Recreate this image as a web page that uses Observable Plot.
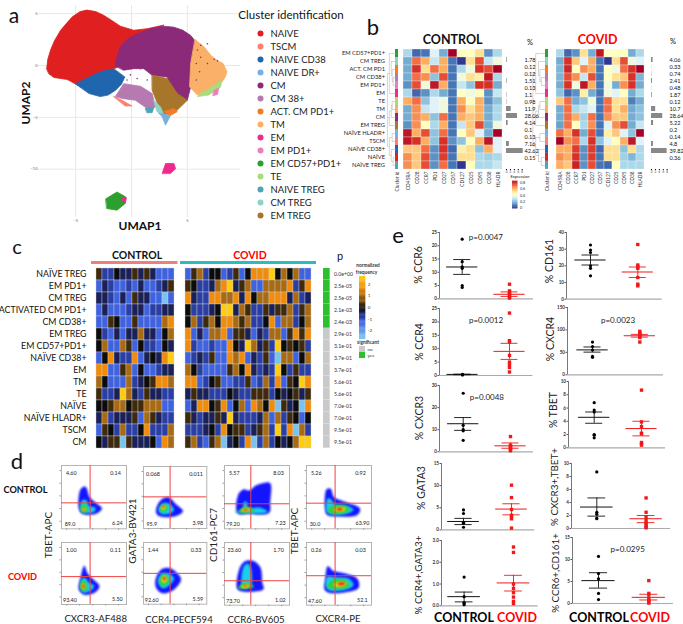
<!DOCTYPE html>
<html><head><meta charset="utf-8">
<script src="https://cdn.jsdelivr.net/npm/d3@7"></script>
<script src="https://cdn.jsdelivr.net/npm/@observablehq/plot@0.6"></script>
<style>
html,body{margin:0;padding:0;background:#fff}
#root{position:relative;width:683px;height:624px;overflow:hidden;font-family:Lato,sans-serif}
#root span{position:absolute;white-space:nowrap;line-height:1}
</style></head><body><div id="root"></div>
<script>
// ---------- panel a: clusters ----------
const clusterNames=["NAIVE","TSCM","NAIVE CD38","NAIVE DR+","CM","CM 38+","ACT. CM PD1+","TM","EM","EM PD1+","EM CD57+PD1+","TE","NAIVE TREG","CM TREG","EM TREG"];
const clusterColors=["#e02020","#fb8072","#1f66ae","#79aee0","#8a2a78","#b67ab0","#f47b20","#fbb06a","#ee2a8c","#e87fbe","#2ca02c","#aadb7c","#4fa3b4","#8fd3c4","#a8762a"];
const umapNaive=[[-7.6,-.3],[-7.5,.6],[-7.25,1.5],[-6.9,2.4],[-6.35,3.4],[-5.8,4.1],[-5.3,4.7],[-4.6,5.2],[-4,5.35],[-3.2,5.2],[-2.5,4.85],[-1.7,4.3],[-1,3.8],[.2,3.4],[1.4,3.55],[2.9,3.9],[.2,2.6],[-1,1.15],[-1.2,-.15],[-2.65,-.75],[-3.7,-1.9],[-4.55,-2.05],[-5.75,-1.35],[-6.95,-1.15],[-7.4,-.8]];
const umapCD38=[[-5,-1.75],[-2.8,-.6],[-1.6,-.3],[-.6,-1.1],[-.9,-1.8],[-1.45,-2.4],[-2.1,-2.85],[-2.8,-3],[-3.8,-2.7]];
const umapCM=[[-1.45,0],[-1.3,.9],[-1,1.8],[-.4,2.5],[.2,2.9],[1.7,3.55],[2.8,3.8],[3.8,3.7],[4.6,3.4],[5.3,2.9],[5.9,2.1],[5.6,1],[5.4,-.15],[5.3,-2.05],[5,-3.35],[3.8,-3.35],[3.2,-1.1],[1.85,-.95],[1.1,-.3],[.2,-.3],[-.7,-.45]];
const umapTM=[[5.7,2.5],[6.5,1.8],[7.1,1],[7.65,.5],[8.2,.2],[8.55,-.6],[8.4,-1.1],[8,-1.75],[7.05,-2.55],[5.9,-2.85],[5.2,-2.05],[5.3,.2]];
const umapTE=[[7.67,-1.75],[8.1,-1.25],[7.97,-2.1],[6.9,-2.85],[5.9,-3],[6.2,-2.7]];
const umapEMTreg=[[1.85,-.95],[3.2,-1.25],[4.1,-2.7],[5,-3.35],[4.1,-4.3],[2.9,-4.8],[2.45,-4],[1.85,-2.4]];
const umapCM38=[[-1.45,-3],[-.7,-1.75],[.8,-2],[1.85,-2.7],[2.15,-4],[1.4,-4.15],[.35,-3.35],[-.7,-3.2]];
const umapAct=[[2.9,-4.45],[3.8,-4.15],[4.1,-4.45],[3.5,-4.8]];
const umapTSCM=[[-1.6,-3],[-.85,-3.35],[.05,-3.9],[-.55,-3.9]];
const umapCMTreg=[[2,-3.35],[2.6,-4],[2.9,-4.8],[2.3,-4.45]];
const umapDR=[[2.45,-4.6],[3.5,-4.8],[3.05,-5.75],[2.75,-4.95]];
const umapNaiveTreg=[[1.25,-4.15],[2,-4],[1.85,-4.55],[1.4,-4.55]];
const umapEMPD1=[[7.4,-2.4],[7.8,-2.2],[7.7,-2.8],[7.3,-2.9]];
const umapEMa=[[2.75,-10.4],[3.05,-9.45],[3.8,-9.45],[3.95,-9.95],[3.5,-10.4]];
const umapGreen=[[-2.3,-12.85],[-1.3,-12.2],[-.55,-12.65],[-.55,-13.3],[-1.3,-13.95],[-2.2,-13.8]];
const umapEMb=[[-.85,-12.75],[-.45,-12.75],[-.55,-13.2],[-.85,-13.1]];
const umapSpecks=[[6.2,1.95],[6.8,2.1],[5.9,1.5],[6.2,.8],[6.8,.2],[7.4,.6],[7.7,.45],[5.8,.2],[6.1,-.6],[5.8,-1.4],[-.1,-.9],[.5,-1.25],[1.4,-1.4],[-.4,-1.4],[.8,-.3]];
const umapLayers=[[umapNaive,"NAIVE"],[umapCD38,"NAIVE CD38"],[umapCM,"CM"],[umapTM,"TM"],[umapTE,"TE"],[umapEMPD1,"EM PD1+"],[umapCM38,"CM 38+"],[umapEMTreg,"EM TREG"],[umapTSCM,"TSCM"],[umapCMTreg,"CM TREG"],[umapNaiveTreg,"NAIVE TREG"],[umapDR,"NAIVE DR+"],[umapAct,"ACT. CM PD1+"],[umapEMa,"EM"],[umapGreen,"EM CD57+PD1+"],[umapEMb,"EM"]];

// ---------- panel b ----------
const bRows=["EM CD57+PD1+","CM TREG","ACT. CM PD1","CM CD38+","EM PD1+","EM","TE","TM","CM","EM TREG","NAÏVE HLADR+","TSCM","NAÏVE CD38+","NAÏVE","NAÏVE TREG"];
const bRowCluster=["EM CD57+PD1+","CM TREG","ACT. CM PD1+","CM 38+","EM PD1+","EM","TE","TM","CM","EM TREG","NAIVE DR+","TSCM","NAIVE CD38","NAIVE","NAIVE TREG"];
const bMarkers=["CD45RA","CD28","CCR7","PD1","CD27","CD57","CD127","CD25","CD95","CD38","HLADR"];
const bControl=[[3,.8,1,4,2,10,5,5,6,1.5,3],[2,8,7,3.5,7,1,0,6,8.5,3.5,4.5],[2,9,6,8,7,1,3,4.5,9,8.5,10],[2,8,7.5,2.5,8.5,1,4.5,6,5.5,9.5,3],[1.5,8.5,4.5,9.5,7,1,3.5,2.5,9,9,2],[3,.8,1.5,3,2,1,5,4.5,5,1.5,3.5],[7,8,2.5,4,4.5,1,7,5,7,1.5,2.5],[2,7.5,3.5,4,4.5,1,7.5,6,7,2,3],[2,7.5,7,2.5,8,1,7,6.5,7,2,3],[1.5,7.5,5,3,7,1,3.5,6.5,8.5,2,4.5],[9.5,7,8.5,2.5,8,1,5,6.5,4,2,10],[9.5,9,7,2.5,9,1.5,2.5,5,7,9.5,4],[6.5,6.5,8,1.5,9,.8,5.5,6,2.5,7,4],[7.5,6.5,8.5,1.5,8.8,1,6,6,3,2.8,3],[7.5,6.5,8.5,1.5,8,1,0,5,3,3,3.5]];
const bCovid=[[3,.8,1.5,6,2,9.5,5,5,5,2,3],[2,9,6.5,4,7,1,0,6,8.5,4.5,4],[2.2,9.2,5,7.5,7,1,5,4.5,8,9,10],[2.2,8.5,7.5,3.5,8.5,1,5,6,6.5,9,2.2],[2,9,4.5,9.5,7,1,4.5,2,7.5,9,2],[2.5,.8,1.5,5.5,2,1,4.5,4,5,2,3],[6.5,8,2,2.5,4.5,1,8,6,6,1.2,2],[2,8,3,3.5,4,1,8,6,7,2,2.5],[2,8,7,2.8,8,1,7.5,6.5,6.5,2,2.5],[1.8,8,5,3,7.5,1,4,7.5,8.5,2,3.5],[8,7,9,2,8.5,1,5.5,6.5,4,2.5,10],[10,7.5,8,3,9,2.5,4,5,7,9.5,4],[7,7,8.8,1.5,8.8,.8,6,6,2.5,6,3],[7.5,7,9,1.5,8.8,1,6,6,2.8,2.2,3],[7,6.5,9.3,1.5,8.5,1,.8,5,3,3,3]];
const bPctControl=[1.78,.12,.12,1.51,.13,1.1,.98,11.9,28.06,4.14,.1,.13,7.16,42.62,.15];
const bPctCovid=[4.06,.33,.74,2.41,.48,1.87,.12,10.7,28.64,5.22,.2,.14,4.8,39.82,.36];
const expressionColors=["#313695","#4575b4","#74add1","#abd9e9","#e0f3f8","#ffffbf","#fee090","#fdae61","#f46d43","#d73027","#a50026"];
const dendroLinks=[[0,3,3,3],[0,4,3,4],[3,3,3,4],[0,2,4,2],[3,3.5,4,3.5],[4,2,4,3.5],[0,1,5,1],[4,2.75,5,2.75],[5,1,5,2.75],[0,0,7,0],[0,5,7,5],[7,0,7,5],[0,6,4,6],[0,7,4,7],[4,6,4,7],[0,8,5,8],[4,6.5,5,6.5],[5,6.5,5,8],[0,9,7,9],[5,7.2,7,7.2],[7,7.2,7,9],[0,10,4,10],[0,11,4,11],[4,10,4,11],[0,13,3,13],[0,14,3,14],[3,13,3,14],[0,12,5,12],[3,13.5,5,13.5],[5,12,5,13.5],[4,10.5,7,10.5],[5,12.75,7,12.75],[7,10.5,7,12.75],[7,2.5,9,2.5],[7,8,9,8],[7,11.6,9,11.6],[9,2.5,9,11.6]];

// ---------- panel c ----------
const cRows=["NAÏVE TREG","EM PD1+","CM TREG","ACTIVATED CM PD1+","CM CD38+","EM TREG","EM CD57+PD1+","NAÏVE CD38+","EM","TM","TE","NAÏVE","NAÏVE HLADR+","TSCM","CM"];
const cLevels={L:-2,B:-1.2,N:-.8,D:-.4,K:0,W:.4,M:1,O:1.7,Y:2.5};
const cLevelColors=["#79c4ee","#3f62e0","#2a3fa5","#1a2058","#0c0c0c","#3f2a0c","#a86a12","#f08c0a","#ffcc10"];
const cControl=["WNNKDDWDWDBBB","BDNBBNBDBBNDW","DDNBDBWDDBBLB","BDBBBNDDBNNDD","BBWKBBWBBBBMO","KNBDBDDMDDBKM","KMBBMWBKNNBKD","BKODNNOBDKDOY","OOBBWMBKBBNDD","MKBBBMNDKWOOM","WNNDYMDNWDDNN","KKWMMKWWMMMBB","DMNDDDWBMWDNN","BWKNMNNKONNNM","KDWWLWDDDKBOM"];
const cCovid=["BWMNKKBNWBKOOOYKMKMBB","WKNNDMOYDWMBBMMMMONWO","ODNNOOMMODOKMMOOODMND","KNNNDKYYDMWNNWDWWMNWM","KMNWMKOOMWMNNKOBMMNKM","OBDBMMOBWWDBDNMMBWOWO","ONBBNBBOKDYMDWNYKWKWN","BNDNWBBOMOBDNWBLMMBKM","MKNBBBBWMKODNDNYKNWNN","OOBNKWBBNNWBNMNOBWKYO","DWDDNNNKDNNWWWNKDKWDW","BDOOKWOBKMBOMKOLWDKLO","WDNDDWDYDNNNDMBMNWKBK","NNNDKNOKWWNDWMNYNOLMN","WMNBWMLDKNOLNMNKDKMYY"];
const cP=["0.0e+00","2.5e-05","2.5e-05","2.1e-03","2.4e-03","2.9e-01","3.1e-01","3.7e-01","3.7e-01","5.6e-01","5.6e-01","7.0e-01","7.0e-01","9.5e-01","9.5e-01"];
const cSignificant=[1,1,1,1,1,0,0,0,0,0,0,0,0,0,0];

// ---------- panel d: gates and quadrant percentages, axis in % of channel range ----------
const densityColors=["#1414ff","#18d0e8","#30d030","#f0e020","#f01010"];
const quadTexts=[["4.60","0.14","89.0","6.24"],["0.068","0.011","95.9","3.98"],["5.57","8.03","79.20","7.23"],["5.26","0.92","30.0","63.90"],["1.00","0.11","93.40","5.50"],["1.44","0.33","92.60","5.59"],["23.60","1.70","73.70","1.02"],["0.26","0.03","47.60","52.1"]];
const quadX=[15,83,13,86], quadY=[87,87,7,8];
const gateX=[44,42,40.5,44,44,42,40.5,44], gateY=[41,51,39.5,40.5,45,50,39,47];
const density=[
[[[30,63],[37,66],[43,50],[55,39],[62,32],[53,24],[32,24],[27,32]],[[32,45],[38,45],[42,36],[52,33],[50,27],[33,26],[29,32]],[[32,38],[38,36],[40,30],[36,26],[31,27],[30,32]],[[33,33],[36,33],[37,30],[34,28],[32,30]],[[33.5,32],[35,31.5],[35,30],[33.5,30]]],
[[[20,30],[28,46],[40,50],[50,40],[62,28],[50,20],[30,19],[22,22]],[[24,30],[30,40],[40,40],[48,30],[40,24],[28,24]],[[26,33],[30,38],[36,37],[38,32],[33,28],[27,28]],[[28,34],[32,37],[35,35],[34,32],[30,31]],[[30,36],[32,36.5],[33,34.5],[31,33.5]]],
[[[20,25],[22,55],[30,62],[38,60],[48,68],[60,72],[70,72],[70,42],[69,26],[60,23],[40,24]],[[16,27],[28,29],[30,42],[34,42],[36,33],[55,33],[66,27],[60,25],[30,25]],[[22,27],[28,33],[40,33],[46,29],[36,26]],[[26,29],[32,32],[40,30],[34,28]],[[29,30],[32,31],[36,30],[32,29]]],
[[[29,30],[31,62],[37,63],[42,50],[60,42],[82,32],[78,22],[50,20],[32,22]],[[31,28],[33,48],[38,46],[44,38],[62,36],[72,30],[62,24],[38,23]],[[33,28],[40,36],[60,36],[66,30],[55,25],[38,25]],[[42,30],[50,34],[60,32],[56,28],[46,28]],[[46,31],[52,33],[56,31],[50,29]]],
[[[30,45],[35,62],[40,50],[47,42],[58,30],[52,20],[35,16],[27,24]],[[32,42],[37,42],[42,35],[50,30],[44,22],[33,20],[29,30]],[[31,37],[37,36],[39,28],[36,22],[31,23],[29,30]],[[33,34],[36,32],[36,27],[33,25],[31,29]],[[33,32],[35,31],[35,28],[33,27]]],
[[[19,38],[28,56],[42,58],[55,48],[59,40],[48,24],[30,18],[21,25]],[[23,38],[30,50],[42,48],[48,42],[42,32],[30,26]],[[26,40],[31,48],[38,44],[40,38],[34,31],[27,32]],[[29,41],[33,46],[37,42],[36,37],[31,35]],[[31,42],[33.5,44],[35,41],[33,38.5]]],
[[[20,26],[24,60],[32,70],[45,70],[55,60],[58,35],[60,26],[45,22],[30,22]],[[28,28],[30,62],[36,66],[40,60],[40,30]],[[21,27],[28,34],[40,34],[45,29],[35,27]],[[26,29],[32,33],[38,31],[33,28]],[[29,31],[32,32],[35,31],[32,30]]],
[[[28,25],[29,40],[33,62],[40,55],[60,50],[78,42],[80,28],[65,22],[35,20]],[[30,30],[32,45],[45,44],[65,42],[72,32],[60,25],[35,24]],[[33,30],[40,40],[60,39],[66,32],[55,27],[38,27]],[[42,33],[50,37],[62,35],[58,31],[46,30]],[[47,34],[55,36],[60,34],[52,32]]]
];
const flowFrames=[[60.7,125.7,465,528.3],[142.7,206,465.7,527.7],[224.3,289.3,465,528.3],[306,371,465,528.3],[60.7,125.7,542.3,604.3],[142.7,206,542.3,604],[224.3,289.3,542.3,605],[306,371,542.3,605]];

// ---------- panel e: percentages per donor, [mean, sem low, sem high] ----------
const ccr6Control=[22.5,14,12,11.5,5,4.3], ccr6Covid=[5.5,3,2.5,2,1.5,1,.5,.3], ccr6Stats=[[12,9.2,14.8],[1.7,.9,2.6]];
const ccr4Control=[.4,.3,.2], ccr4Covid=[23.3,13,12.5,7.5,5,4,3,1.3], ccr4Stats=[[.4,.3,.5],[9,6,12]];
const cxcr3Control=[26.5,12,10,9.5,5.2], cxcr3Covid=[6.9,3,2.5,2,1.5,1,.5], cxcr3Stats=[[12.7,9.7,15.5],[2.7,1.6,4]];
const gata3Control=[4.5,3.7,1.7,1.5,.6], gata3Covid=[10.1,7.3,4.6,3.3,2.8,2.5,.4], gata3Stats=[[1.9,1.2,2.6],[4.7,3.4,5.9]];
const ccr4gata3Control=[1.32,.42,.15,.1,.05], ccr4gata3Covid=[2.7,2.45,1,.8,.6,.4,.2,.1], ccr4gata3Stats=[[.42,.18,.63],[1.05,.68,1.4]];
const cd161Control=[32.5,29.5,28,20,18.5,14], cd161Covid=[32.8,20.5,19.5,18.5,13,9,8], cd161Stats=[[23.5,20.5,26.5],[16.3,13,19.3]];
const cxcr4Control=[73,63,55,41,39], cxcr4Covid=[97,93,90,88,85,83,73], cxcr4Stats=[[55.5,50.5,62],[87,84,90]];
const tbetControl=[6.8,5.7,5.4,2,1.9,1.5], tbetCovid=[8.7,3.9,3.2,2.2,2.1,.8,.6,.4], tbetStats=[[4.6,3.7,5.4],[2.9,1.8,4]];
const cxcr3tbetControl=[8.7,2.5,2.2,1.6,1.5], cxcr3tbetCovid=[4.7,2.5,1.8,1.3,.9,.6,.3,.1], cxcr3tbetStats=[[3.3,1.9,4.7],[1.5,.9,2]];
const ccr6cd161Control=[10.7,6.8,5.6,2.3,.9], ccr6cd161Covid=[5.2,2.3,1.9,1.1,.7,.4,.1], ccr6cd161Stats=[[5.2,3.5,7],[1.4,.8,2.1]];

// ---------- layout ----------
const root=document.getElementById("root");
const FONT="Lato,sans-serif";
const baseStyle={fontFamily:FONT,background:"none",overflow:"visible",maxWidth:"none"};
function place(plot,left,top){plot.style.position="absolute";plot.style.left=left+"px";plot.style.top=top+"px";root.append(plot);return plot;}
function label(t,x,y,o={}){const s=document.createElement("span");s.textContent=t;
  s.style.left=x+"px";s.style.top=y+"px";s.style.fontSize=(o.size||10)+"px";s.style.color=o.color||"#111";s.style.fontWeight=o.weight||"normal";
  s.style.transform=`translate(-50%,-50%) rotate(${o.rot||0}deg)`;root.append(s);}
function blurMarks(plot,amount){plot.querySelectorAll('g[aria-label="line"]').forEach(g=>g.style.filter=`blur(${amount}px)`);return plot;}
const colorOf=Object.fromEntries(clusterNames.map((n,i)=>[n,clusterColors[i]]));

// panel letters
label("a",14,14,{size:21});label("b",373,27,{size:22});label("c",17,246,{size:20});label("d",17,461,{size:22});label("e",398,235,{size:22});

// --- a ---
place(blurMarks(Plot.plot({width:240,height:225,marginLeft:38,marginRight:0,marginTop:5,marginBottom:8,style:baseStyle,
  x:{domain:[-8.33,9.76]},y:{domain:[-14.66,5.79]},
  marks:[
    Plot.gridX([-5,0,5],{stroke:"#e8e8e8",strokeOpacity:1}),
    Plot.gridY([-10,-5,0,5],{stroke:"#e8e8e8",strokeOpacity:1}),
    Plot.axisX({ticks:[-5,5],tickSize:0,fontSize:4,fill:"#666",label:null,tickPadding:2}),
    Plot.axisY({ticks:[-10,-5,0,5],tickSize:0,fontSize:4,fill:"#666",label:null,tickPadding:1}),
    ...umapLayers.map(([poly,name])=>Plot.line(poly,{x:d=>d[0],y:d=>d[1],fill:colorOf[name],stroke:colorOf[name],strokeWidth:.8,curve:"linear-closed"})),
    Plot.dot(umapSpecks,{x:d=>d[0],y:d=>d[1],r:.8,fill:"#8a2a78"})
  ]}),.3),0,0);
label("UMAP1",140,226,{size:12,weight:700});label("UMAP2",26,103,{size:12,weight:700,rot:-90});
label("Cluster identification",291,15,{size:11.5});
place(Plot.plot({width:90,height:183,margin:0,style:baseStyle,y:{domain:clusterNames,padding:0,axis:null},
  marks:[
    Plot.dot(clusterNames,{y:d=>d,r:3,fill:d=>colorOf[d],frameAnchor:"left",dx:2}),
    Plot.text(clusterNames,{y:d=>d,text:d=>d,fontSize:9.5,frameAnchor:"left",textAnchor:"start",dx:12,fill:"#222"})
  ]}),258,32);

// --- b ---
const expDomain=expressionColors.map((_,i)=>i*.09);
function bHeat(matrix,left,width){
  const cells=matrix.flatMap((r,i)=>r.map((v,j)=>({row:bRows[i],col:bMarkers[j],v:v*.09})));
  return place(Plot.plot({width,height:134,margin:0,marginBottom:14,marginTop:0,style:baseStyle,
    x:{domain:bMarkers,padding:0},y:{domain:bRows,padding:0,axis:null},
    color:{type:"linear",domain:expDomain,range:expressionColors},
    marks:[Plot.cell(cells,{x:"col",y:"row",fill:"v",stroke:"#f4f4f4",strokeWidth:.3}),
      Plot.axisX({tickRotate:-90,fontSize:4.8,tickSize:0,tickPadding:2,label:null,fill:"#333"})]}),left,49);
}
bHeat(bControl,403,99.5);bHeat(bCovid,551.5,96);
function bStrip(left,marginLeft,labels){
  return place(Plot.plot({width:marginLeft+3.6,height:134,marginLeft,marginRight:0,marginTop:0,marginBottom:14,style:baseStyle,
    x:{domain:["Cluster id"],padding:0},y:{domain:bRows,padding:0},
    marks:[Plot.cell(bRows,{x:()=>"Cluster id",y:d=>d,fill:(d,i)=>colorOf[bRowCluster[i]]}),
      Plot.axisX({tickRotate:-90,fontSize:4.8,tickSize:0,tickPadding:2,label:null,fill:"#333"}),
      labels?Plot.axisY({tickSize:0,tickPadding:10.5,fontSize:5.8,label:null,fill:"#222"}):Plot.axisY({ticks:[],label:null})]}),left,49);
}
bStrip(395.3-60,60,true);bStrip(545.4-2,2,false);
function dendro(left,width){
  return place(Plot.plot({width,height:120,margin:0,style:baseStyle,x:{domain:[10,0],axis:null},y:{domain:[14.5,-.5],axis:null},
    marks:[Plot.link(dendroLinks,{x1:d=>d[0],y1:d=>d[1],x2:d=>d[2],y2:d=>d[3],stroke:"#aaa",strokeWidth:.5})]}),left,49);
}
dendro(385.5,9.5);dendro(531,14);
function bBars(pct,left){
  return place(Plot.plot({width:40,height:134,margin:0,marginBottom:14,style:baseStyle,
    x:{domain:[0,102]},y:{domain:bRows,padding:.25,axis:null},
    marks:[Plot.barX(pct,{x:d=>d,y:(d,i)=>bRows[i],fill:"#888",inset:0}),
      Plot.text(pct,{y:(d,i)=>bRows[i],text:d=>String(d),frameAnchor:"left",textAnchor:"start",dx:18,fontSize:5.6,fill:"#111"}),
      Plot.axisX({ticks:[0,10,20,30,40],tickFormat:d=>d/5,fontSize:3,tickSize:1,tickPadding:0,label:null,fill:"#444"})]}),left,49);
}
bBars(bPctControl,506);bBars(bPctCovid,651);
label("%",530,43,{size:7.5});label("%",673,42,{size:7.5});
label("CONTROL",452.7,39.5,{size:12.5,weight:700});label("COVID",597.7,40,{size:12.5,weight:700,color:"#f00"});
place(Plot.plot({width:25,height:27.5,marginLeft:0,marginRight:19.6,marginTop:0,marginBottom:0,style:baseStyle,
  x:{axis:null},y:{domain:[0,.88]},color:{type:"linear",domain:expDomain,range:expressionColors},
  marks:[Plot.ruleY(d3.range(0,.88,.02),{y:d=>d,stroke:d=>d,strokeWidth:1}),
    Plot.axisY({anchor:"right",ticks:[0,.2,.4,.6,.8],tickFormat:d=>d,tickSize:0,tickPadding:2,fontSize:3.8,label:null,fill:"#333"})]}),512.3,180);
label("Expression",520,177,{size:4});

// --- c ---
function cCells(rows){return rows.flatMap((s,i)=>[...s].map((ch,j)=>({row:cRows[i],col:j,v:cLevels[ch]})));}
const cColor={type:"linear",domain:Object.values(cLevels),range:cLevelColors};
place(Plot.plot({width:177.3,height:183.6,marginLeft:92,marginRight:0,marginTop:0,marginBottom:0,style:baseStyle,
  x:{domain:d3.range(13),padding:0,axis:null},y:{domain:cRows,padding:0},color:cColor,
  marks:[Plot.cell(cCells(cControl),{x:"col",y:"row",fill:"v",stroke:"#cfcfcf",strokeWidth:.4}),
    Plot.axisY({tickSize:0,tickPadding:6,fontSize:8.8,label:null,fill:"#111"})]}),0,265.7);
place(Plot.plot({width:136,height:183.6,margin:0,style:baseStyle,
  x:{domain:d3.range(21),padding:0,axis:null},y:{domain:cRows,padding:0,axis:null},color:cColor,
  marks:[Plot.cell(cCells(cCovid),{x:"col",y:"row",fill:"v",stroke:"#cfcfcf",strokeWidth:.4})]}),180.3,265.7);
place(Plot.plot({width:34,height:183.6,margin:0,style:baseStyle,y:{domain:cRows,padding:0,axis:null},
  marks:[Plot.barX(cSignificant,{x1:()=>0,x2:()=>1,y:(d,i)=>cRows[i],fill:d=>d?"#2dbf2d":"#c9c9c9",insetBottom:.3}),
    Plot.text(cP,{y:(d,i)=>cRows[i],text:d=>d,frameAnchor:"left",textAnchor:"start",dx:10.5,fontSize:5.2,fill:"#333"})],
  x:{domain:[0,5.1],axis:null}}),322.7,265.7);
place(Plot.plot({width:12,height:62,marginLeft:0,marginRight:5.7,marginTop:0,marginBottom:0,style:baseStyle,x:{axis:null},y:{domain:[-2.65,2.65]},
  color:{type:"linear",domain:[-2.65,-1.2,-.6,0,.6,1.7,2.65],range:["#7cc8f0","#3f62e0","#1a2a80","#0c0c0c","#7a4a0c","#f08c0a","#ffcc10"]},
  marks:[Plot.ruleY(d3.range(-2.65,2.66,.1),{y:d=>d,stroke:d=>d,strokeWidth:1.4}),
    Plot.axisY({anchor:"right",ticks:[-2,-1,0,1,2],tickFormat:d=>d,tickSize:0,tickPadding:2,fontSize:4.6,label:null,fill:"#333"})]}),358.7,275.7);
label("normalized",368,265,{size:4.8,weight:700,color:"#333"});label("frequency",366.5,272,{size:4.8,weight:700,color:"#333"});
label("significant",368,342,{size:4.8,weight:700,color:"#333"});
place(Plot.plot({width:25,height:13,margin:0,style:baseStyle,x:{axis:null,domain:[0,6]},y:{domain:["no","yes"],padding:.05,axis:null},
  marks:[Plot.barX(["no","yes"],{x1:()=>0,x2:()=>1.45,y:d=>d,fill:d=>d==="yes"?"#2dbf2d":"#c9c9c9"}),
    Plot.text(["no","yes"],{y:d=>d,text:d=>d,frameAnchor:"left",textAnchor:"start",dx:8,fontSize:4.6,fill:"#333"})]}),358.7,345);
label("CONTROL",137,254.5,{size:10.5,weight:700});label("COVID",250,254.5,{size:10.5,weight:700,color:"#f00"});
label("p",340,255,{size:11});
const topBars=[["#f07f7a",90.5,177],["#2bbcbc",180,316]];
topBars.forEach(([fill,a,b])=>place(Plot.plot({width:b-a,height:3,margin:0,style:baseStyle,x:{axis:null,domain:[0,1]},y:{axis:null},
  marks:[Plot.rect([1],{x1:()=>0,x2:()=>1,fill})]}),a,261));

// --- d ---
flowFrames.forEach(([x0,x1,y0,y1],i)=>{
  const q=quadTexts[i];
  const plot=Plot.plot({width:x1-x0+6,height:y1-y0+6,margin:3,style:baseStyle,x:{domain:[0,100]},y:{domain:[0,100]},
    marks:[
      ...density[i].map((poly,k)=>Plot.line(poly,{x:d=>d[0],y:d=>d[1],fill:densityColors[k],stroke:densityColors[k],strokeWidth:.5,curve:"catmull-rom-closed"})),
      Plot.frame({stroke:"#b4b4b4"}),
      Plot.ruleX([gateX[i]],{stroke:"#f04040",strokeWidth:1}),
      Plot.ruleY([gateY[i]],{stroke:"#f04040",strokeWidth:1}),
      Plot.text(q,{x:(d,j)=>quadX[j],y:(d,j)=>quadY[j],text:d=>d,fontSize:5.4,fill:"#222"}),
      Plot.axisX({ticks:[8,28,48,68,88],tickSize:1.5,tickFormat:()=>"",label:null,stroke:"#999"}),
      Plot.axisY({ticks:[12,32,52,72,92],tickSize:1.5,tickFormat:()=>"",label:null,stroke:"#999"})
    ]});
  blurMarks(plot,.9);
  place(plot,x0-3,y0-3);
});
label("CONTROL",25.5,490,{size:9.2,weight:700});label("COVID",22.5,577,{size:9.2,weight:700,color:"#f00"});
label("TBET-APC",48,535,{size:10,rot:-90,color:"#222"});label("GATA3-BV421",131.7,531,{size:10,rot:-90,color:"#222"});
label("CD161-PC7",213,535,{size:10,rot:-90,color:"#222"});label("TBET-APC",294,531,{size:10,rot:-90,color:"#222"});
label("CXCR3-AF488",95.7,619,{size:9.6,color:"#222"});label("CCR4-PECF594",179,620,{size:9.6,color:"#222"});
label("CCR6-BV605",256,620,{size:9.6,color:"#222"});label("CXCR4-PE",338,619,{size:9.6,color:"#222"});

// --- e ---
const stripLayout=[
 {name:"% CCR6",ctrl:ccr6Control,cov:ccr6Covid,st:ccr6Stats,max:25,ticks:[0,5,10,15,20,25],top:232.4,bottom:298.7,left:439,right:533,cx:461.7,vx:509,lx:418,ly:265,p:"p=0.0047",pu:.5,py:23},
 {name:"% CCR4",ctrl:ccr4Control,cov:ccr4Covid,st:ccr4Stats,max:25,ticks:[0,5,10,15,20,25],top:308.3,bottom:375.3,left:439.3,right:532.7,cx:462.3,vx:509.3,lx:419,ly:341.7,p:"p=0.0012",pu:.5,py:20.6},
 {name:"% CXCR3",ctrl:cxcr3Control,cov:cxcr3Covid,st:cxcr3Stats,max:30,ticks:[0,10,20,30],top:385,bottom:451.3,left:439,right:533,cx:462.7,vx:510,lx:419,ly:418,p:"p=0.0048",pu:.5,py:24.5},
 {name:"% GATA3",ctrl:gata3Control,cov:gata3Covid,st:gata3Stats,max:15,ticks:[0,5,10,15],top:463.3,bottom:529.7,left:440.7,right:534,cx:462.7,vx:510.7,lx:420.7,ly:488},
 {name:"% CCR4+,GATA3+",ctrl:ccr4gata3Control,cov:ccr4gata3Covid,st:ccr4gata3Stats,max:3,ticks:[0,1,2,3],top:540,bottom:605.3,left:440.7,right:537.3,cx:463.3,vx:512.7,lx:419,ly:575},
 {name:"% CD161",ctrl:cd161Control,cov:cd161Covid,st:cd161Stats,max:40,ticks:[0,10,20,30,40],top:232,bottom:298.7,left:566,right:661.7,cx:590,vx:637.3,lx:549,ly:261},
 {name:"% CXCR4",ctrl:cxcr4Control,cov:cxcr4Covid,st:cxcr4Stats,max:150,ticks:[0,50,100,150],top:306.7,bottom:374,left:566.7,right:662.7,cx:591.7,vx:639,lx:550,ly:339,p:"p=0.0023",pu:.54,py:121},
 {name:"% TBET",ctrl:tbetControl,cov:tbetCovid,st:tbetStats,max:10,ticks:[0,2,4,6,8,10],top:381,bottom:447.3,left:568,right:665,cx:593.7,vx:641,lx:553,ly:410},
 {name:"% CXCR3+,TBET+",ctrl:cxcr3tbetControl,cov:cxcr3tbetCovid,st:cxcr3tbetStats,max:10,ticks:[0,2,4,6,8,10],top:463.3,bottom:528.3,left:570.7,right:670,cx:596,vx:645.3,lx:555,ly:486.7},
 {name:"% CCR6+,CD161+",ctrl:ccr6cd161Control,cov:ccr6cd161Covid,st:ccr6cd161Stats,max:15,ticks:[0,5,10,15],top:537.3,bottom:603.3,left:571.7,right:672.7,cx:597.7,vx:648,lx:555.7,ly:573,p:"p=0.0295",pu:.58,py:12.3}
];
const RED="#f01818";
stripLayout.forEach(s=>{
  const unit=s.vx-s.cx, u0=(s.left-s.cx)/unit, u1=(s.right-s.cx)/unit;
  const groupMarks=(g,color)=>{const [m,lo,hi]=s.st[g];return [
    Plot.ruleY([m],{x1:()=>g-.33,x2:()=>g+.33,stroke:color,strokeWidth:1}),
    Plot.ruleY([lo,hi],{x1:()=>g-.18,x2:()=>g+.18,stroke:color,strokeWidth:.9}),
    Plot.ruleX([g],{y1:()=>lo,y2:()=>hi,stroke:color,strokeWidth:.9})];};
  place(Plot.plot({width:s.right-s.left+18,height:s.bottom-s.top+8,marginLeft:16,marginRight:2,marginTop:4,marginBottom:4,style:baseStyle,
    x:{domain:[u0,u1],axis:null},y:{domain:[0,s.max]},
    marks:[
      Plot.ruleY([0],{stroke:"#aaa",strokeWidth:1.2}),
      Plot.ruleX([u0],{stroke:"#777",strokeWidth:1}),
      Plot.axisY({ticks:s.ticks,tickSize:1.5,tickPadding:1,fontSize:4.6,fontWeight:700,label:null,fill:"#333",stroke:"#555"}),
      ...groupMarks(0,"#111"),...groupMarks(1,RED),
      Plot.dot(s.ctrl,{x:()=>0,y:d=>d,r:1.6,fill:"#000"}),
      Plot.dot(s.cov,{x:()=>1,y:d=>d,r:1.9,fill:RED,symbol:"square"}),
      s.p?Plot.text([s.p],{x:()=>s.pu,y:()=>s.py,text:d=>d,fontSize:8,fill:"#222"}):null
    ]}),s.left-16,s.top-4);
  label(s.name,s.lx,s.ly,{size:s.name.length>9?9.8:10.5,rot:-90,color:"#222"});
});
label("CONTROL",464,618,{size:12.5,weight:700,color:"#000"});label("COVID",517,618,{size:12.5,weight:700,color:"#f00"});
label("CONTROL",599,618,{size:12.5,weight:700,color:"#000"});label("COVID",650,618,{size:12.5,weight:700,color:"#f00"});
</script></body></html>
